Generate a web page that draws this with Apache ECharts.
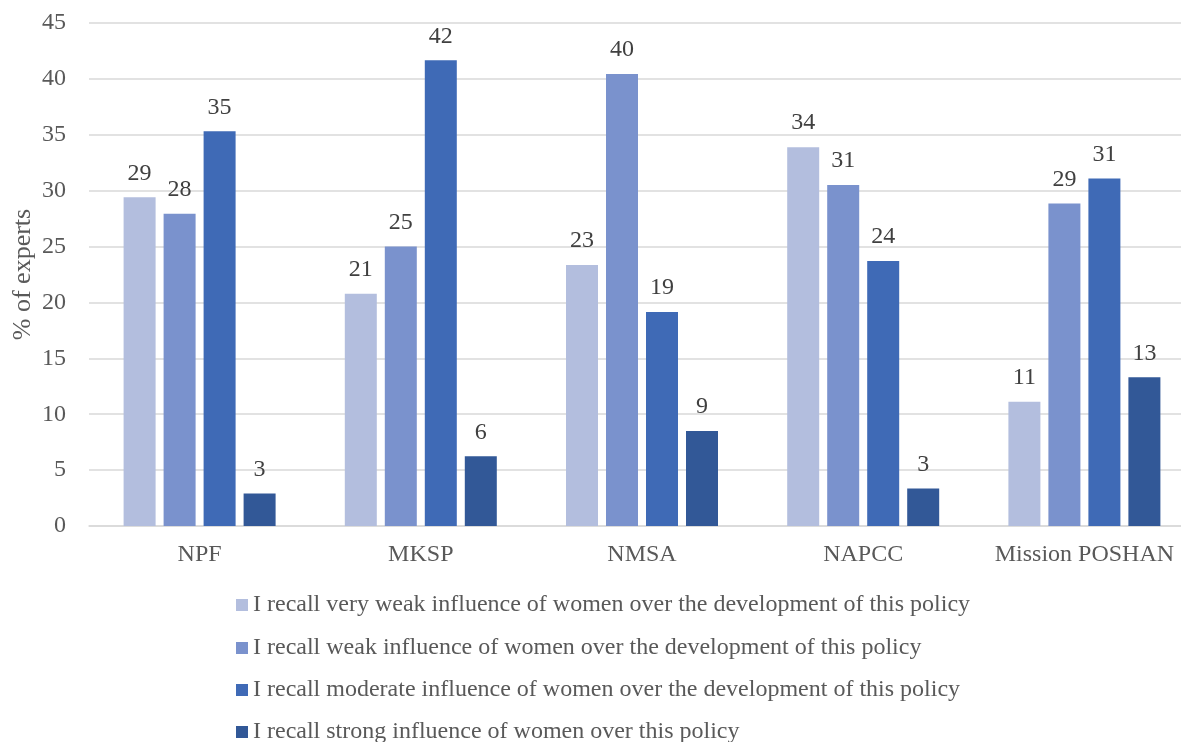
<!DOCTYPE html>
<html>
<head>
<meta charset="utf-8">
<script src="https://cdn.jsdelivr.net/npm/echarts@6/dist/echarts.min.js"></script>
<style>
  html, body { margin: 0; padding: 0; background: #ffffff; }
  #chart { width: 1181px; height: 742px; }
</style>
</head>
<body>
<div id="chart"></div>
<script>
// Policies surveyed
const categories = ['NPF', 'MKSP', 'NMSA', 'NAPCC', 'Mission POSHAN'];

// Share of experts (%) per recalled level of women's influence
const veryWeak = [29.41, 20.77, 23.36, 33.89, 11.11];
const weak     = [27.93, 25.00, 40.43, 30.51, 28.86];
const moderate = [35.31, 41.67, 19.14, 23.70, 31.08];
const strong   = [2.90, 6.23, 8.51, 3.36, 13.30];

const seriesNames = [
  'I recall very weak influence of women over the development of this policy',
  'I recall weak influence of women over the development of this policy',
  'I recall moderate influence of women over the development of this policy',
  'I recall strong influence of women over this policy'
];
const seriesData = [veryWeak, weak, moderate, strong];
const colors = ['#B3BEDE', '#7A92CD', '#3F6AB6', '#325897'];

const font = '"Liberation Serif", "Times New Roman", serif';
const fs = 24;

// one legend row per series, stacked vertically below the plot
const legendRowCenters = [605, 648, 690, 732];
const legends = seriesNames.map((name, i) => ({
  orient: 'vertical',
  left: 236,
  top: legendRowCenters[i] - 12,
  padding: 0,
  itemWidth: 12,
  itemHeight: 12,
  itemGap: 0,
  icon: 'rect',
  textStyle: { color: '#595959', fontFamily: font, fontSize: fs, padding: [0, 0, 0, 0] },
  data: [name]
}));

const chart = echarts.init(document.getElementById('chart'));
chart.setOption({
  animation: false,
  color: colors,
  // the plot runs slightly past the right edge of the canvas
  grid: { left: 89, right: -14, top: 23, bottom: 216, containLabel: false, outerBoundsMode: 'none' },
  xAxis: {
    type: 'category',
    data: categories,
    axisLine: { lineStyle: { color: '#D9D9D9', width: 1.5 } },
    axisTick: { show: false },
    axisLabel: { color: '#595959', fontFamily: font, fontSize: fs, margin: 17, interval: 0 }
  },
  yAxis: {
    type: 'value',
    min: 0, max: 45, interval: 5,
    name: '% of experts',
    nameLocation: 'middle',
    nameGap: 53,
    nameMoveOverlap: false,
    nameTextStyle: { color: '#595959', fontFamily: font, fontSize: 26 },
    axisLine: { show: false },
    axisTick: { show: false },
    axisLabel: { color: '#595959', fontFamily: font, fontSize: fs, margin: 23 },
    splitLine: { lineStyle: { color: '#D9D9D9', width: 1.5 } }
  },
  legend: legends,
  series: seriesData.map((d, i) => ({
    name: seriesNames[i],
    type: 'bar',
    data: d,
    barWidth: 32,
    barGap: '25%',
    itemStyle: { color: colors[i] },
    label: {
      show: true,
      position: 'top',
      distance: 12,
      color: '#404040',
      fontFamily: font,
      fontSize: fs,
      formatter: p => Math.round(p.value)
    }
  }))
});
</script>
</body>
</html>
